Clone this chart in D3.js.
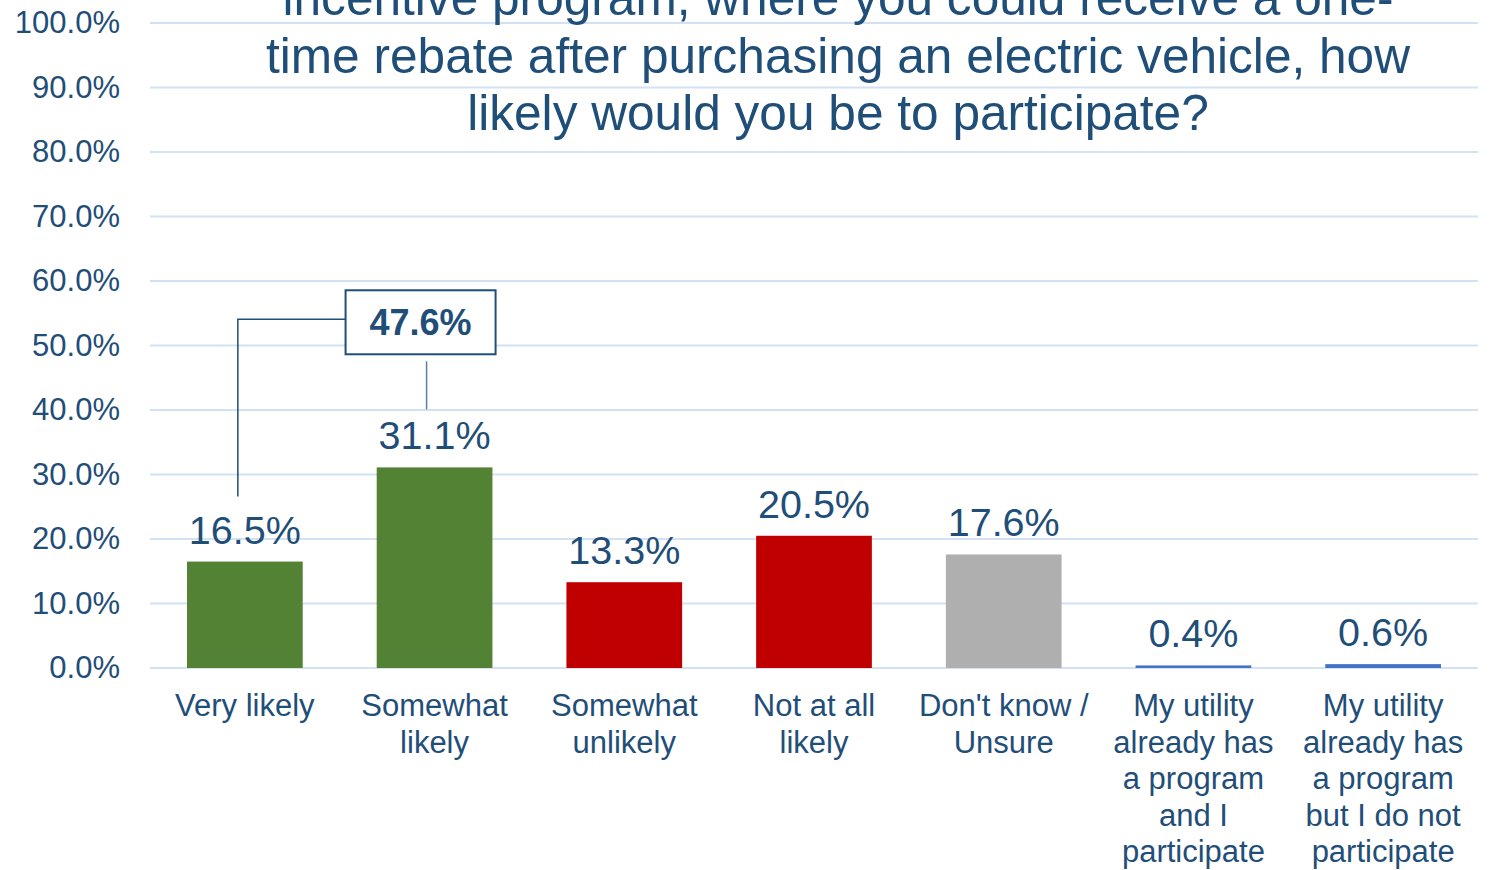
<!DOCTYPE html>
<html><head><meta charset="utf-8">
<script src="https://cdn.jsdelivr.net/npm/d3@7"></script>
<style>
html,body{margin:0;padding:0;background:#fff;}
svg{display:block;font-family:"Liberation Sans",Arial,sans-serif;}
</style></head>
<body>
<svg id="chart" width="1491" height="870"></svg>
<script>
const titleLines = ["incentive program, where you could receive a one-",
  "time rebate after purchasing an electric vehicle, how",
  "likely would you be to participate?"];
const categories = ["Very likely","Somewhat likely","Somewhat unlikely","Not at all likely","Don't know / Unsure",
  "My utility already has a program and I participate","My utility already has a program but I do not participate"];
const categoryLines = [["Very likely"],["Somewhat","likely"],["Somewhat","unlikely"],["Not at all","likely"],
  ["Don't know /","Unsure"],["My utility","already has","a program","and I","participate"],
  ["My utility","already has","a program","but I do not","participate"]];
const values = [16.5, 31.1, 13.3, 20.5, 17.6, 0.4, 0.6];
const barColors = ["#548235","#548235","#C00000","#C00000","#AFAFAF","#4472C4","#4472C4"];
const yTicks = [0,10,20,30,40,50,60,70,80,90,100];
const calloutLabel = "47.6%";

const svg = d3.select("#chart");
const textColor = "#1F4E79";
const m = {left:150, right:1478, top:23, bottom:668};

const x = d3.scaleBand().domain(categories).range([m.left, m.right]).paddingInner(0.39).paddingOuter(0.195);
const y = d3.scaleLinear().domain([0,100]).range([m.bottom, m.top]);

// gridlines
svg.append("g").selectAll("line").data(yTicks).join("line")
  .attr("x1", m.left).attr("x2", m.right)
  .attr("y1", d=>y(d)).attr("y2", d=>y(d))
  .attr("stroke", "#D2E2F4").attr("stroke-width", 2);

// y axis labels
const yAxis = d3.axisLeft(y).tickValues(yTicks).tickFormat(d=>d.toFixed(1)+"%").tickSize(0).tickPadding(30);
const ya = svg.append("g").attr("transform", `translate(${m.left},0)`).call(yAxis);
ya.select(".domain").remove();
ya.selectAll("text").attr("fill", textColor).style("font-size","31px")
  .style("font-family",'"Liberation Sans",Arial,sans-serif');

// title
svg.append("g").selectAll("text").data(titleLines).join("text")
  .attr("x", 838).attr("y", (d,i)=>15 + i*57.5)
  .attr("text-anchor","middle").attr("fill", textColor)
  .style("font-size","49.6px").text(d=>d);

// bars
svg.append("g").selectAll("rect").data(values).join("rect")
  .attr("x", (d,i)=>x(categories[i])).attr("width", x.bandwidth())
  .attr("y", d=>y(d)).attr("height", d=>y(0)-y(d))
  .attr("fill", (d,i)=>barColors[i]);

// value labels
svg.append("g").selectAll("text").data(values).join("text")
  .attr("x", (d,i)=>x(categories[i])+x.bandwidth()/2)
  .attr("y", d=>y(d)-18)
  .attr("text-anchor","middle").attr("fill", textColor)
  .style("font-size","39.5px").text(d=>d.toFixed(1)+"%");

// category labels
const cl = svg.append("g");
categories.forEach((c,i)=>{
  const t = cl.append("text").attr("text-anchor","middle").attr("fill", textColor).style("font-size","31px");
  categoryLines[i].forEach((ln,j)=>{
    t.append("tspan").attr("x", x(c)+x.bandwidth()/2).attr("y", 716 + j*36.6).text(ln);
  });
});

// callout
const c0 = x(categories[0]) + x.bandwidth()/2;
const c1 = x(categories[1]) + x.bandwidth()/2;
const boxW = 150, boxH = 64;
const boxCx = c1 - 14, boxCy = y(53.6);
const lineX0 = c0 - 7;
const g = svg.append("g");
g.append("polyline")
  .attr("points", `${boxCx-boxW/2},${boxCy-3} ${lineX0},${boxCy-3} ${lineX0},${y(values[0])-65}`)
  .attr("fill","none").attr("stroke", textColor).attr("stroke-width", 1.5);
g.append("line").attr("x1", boxCx+6).attr("x2", boxCx+6)
  .attr("y1", boxCy+boxH/2+7).attr("y2", y(values[1])-58)
  .attr("stroke", "#5B7FA6").attr("stroke-width", 1.5);
g.append("rect").attr("x", boxCx-boxW/2).attr("y", boxCy-boxH/2)
  .attr("width", boxW).attr("height", boxH)
  .attr("fill","#fff").attr("stroke", textColor).attr("stroke-width", 2);
g.append("text").attr("x", boxCx).attr("y", boxCy+13)
  .attr("text-anchor","middle").attr("fill", textColor)
  .style("font-size","36px").style("font-weight","bold").text(calloutLabel);
</script>
</body></html>
